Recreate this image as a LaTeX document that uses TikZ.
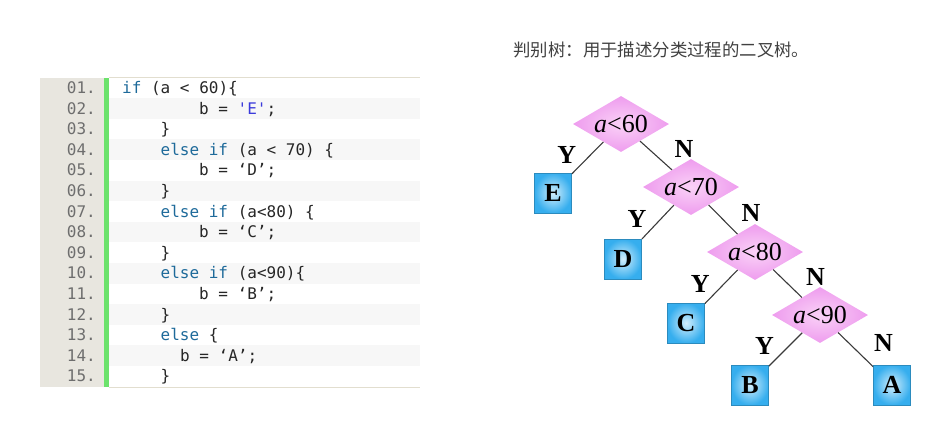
\documentclass[tikz,border=0pt]{standalone}
\usepackage{fontspec}
\setmainfont{Liberation Serif}
\setmonofont{DejaVu Sans Mono}
\newfontfamily\cjkfont{Noto Sans CJK SC}
\usetikzlibrary{positioning,shapes.geometric}
\definecolor{codeGutter}{HTML}{E8E6DF}
\definecolor{codeBar}{HTML}{6CE26C}
\definecolor{codeStripe}{HTML}{F7F7F7}
\definecolor{codeRule}{HTML}{E2DECF}
\definecolor{codeNum}{HTML}{6E6E6E}
\definecolor{codeKey}{HTML}{1E6A9A}
\definecolor{codeStr}{HTML}{3B3BDB}
\definecolor{treePink}{HTML}{EE9CEE}
\definecolor{treePinkLight}{HTML}{FAD2F7}
\definecolor{treeBlue}{HTML}{36AEEE}
\definecolor{treeBlueLight}{HTML}{D2EEFC}
\definecolor{treeEdge}{HTML}{3A3A3A}
\newcommand{\codeFont}{\ttfamily\fontsize{16}{19}\selectfont}
\newcommand{\condFont}{\fontsize{26}{28}\selectfont}
\newcommand{\leafFont}{\bfseries\fontsize{26}{28}\selectfont}
\newcommand{\kw}[1]{\textcolor{codeKey}{#1}}
\tikzset{
  lineNum/.style={anchor=base east, font=\codeFont, text=codeNum, inner sep=0pt},
  codeLine/.style={anchor=base west, font=\codeFont, text=black!85, inner sep=0pt},
  cond/.style={diamond, aspect=1.7, minimum width=96pt, minimum height=56pt, inner sep=0pt, shading=radial, inner color=treePinkLight, outer color=treePink, font=\condFont},
  leaf/.style={rectangle, minimum width=37pt, minimum height=40pt, inner sep=0pt, draw=treeBlue!80!black, line width=0.8pt, shading=radial, inner color=treeBlueLight, outer color=treeBlue, font=\leafFont},
  branch/.style={draw=treeEdge, line width=1.1pt},
  yLab/.style={font=\leafFont, left=10pt, yshift=3pt, inner sep=1pt},
  nLab/.style={font=\leafFont, right=17pt, yshift=7pt, inner sep=1pt}
}

\begin{document}
\begin{tikzpicture}[x=1pt, y=-1pt]
  \useasboundingbox (0,0) rectangle (944,432);

  % code listing
  \fill[codeGutter] (40,77.5) rectangle (104,387);
  \fill[codeBar] (104,77.5) rectangle (109,387);
  \foreach \i in {2,4,...,14}
    \fill[codeStripe] (109,{56.9+20.6*\i}) rectangle (420,{77.5+20.6*\i});
  \draw[codeRule, line width=1pt] (109,77.5) -- (420,77.5);
  \draw[codeRule, line width=1pt] (109,387) -- (420,387);
  \foreach \i in {1,...,15}
    \node[lineNum] (n\i) at (96,{72.8+20.6*\i}) {\ifnum\i<10 0\fi\i.};

  \node[codeLine] (l1) at (122,93.4) {\kw{if} (a < 60)\{};
  \node[codeLine] (l2) at (199,114.0) {b = \textcolor{codeStr}{'E'};};
  \node[codeLine] (l3) at (160.5,134.6) {\}};
  \node[codeLine] (l4) at (160.5,155.2) {\kw{else} \kw{if} (a < 70) \{};
  \node[codeLine] (l5) at (199,175.8) {b = ‘D’;};
  \node[codeLine] (l6) at (160.5,196.4) {\}};
  \node[codeLine] (l7) at (160.5,217.0) {\kw{else} \kw{if} (a<80) \{};
  \node[codeLine] (l8) at (199,237.6) {b = ‘C’;};
  \node[codeLine] (l9) at (160.5,258.2) {\}};
  \node[codeLine] (l10) at (160.5,278.8) {\kw{else} \kw{if} (a<90)\{};
  \node[codeLine] (l11) at (199,299.4) {b = ‘B’;};
  \node[codeLine] (l12) at (160.5,320.0) {\}};
  \node[codeLine] (l13) at (160.5,340.6) {\kw{else} \{};
  \node[codeLine] (l14) at (180,361.2) {b = ‘A’;};
  \node[codeLine] (l15) at (160.5,381.8) {\}};

  % decision tree
  \node[anchor=west, font=\cjkfont\fontsize{17.4}{20}\selectfont, text=black!75] (title) at (510,50) {判别树：用于描述分类过程的二叉树。};

  \node[cond] (q60) at (621,124) {\textit{a}<60};
  \node[cond, on grid, below right=63pt and 70pt of q60] (q70) {\textit{a}<70};
  \node[cond, on grid, below right=65pt and 64pt of q70] (q80) {\textit{a}<80};
  \node[cond, on grid, below right=63pt and 65pt of q80] (q90) {\textit{a}<90};
  \node[leaf, on grid, below left=69pt and 68pt of q60] (leafE) {E};
  \node[leaf, on grid, below left=72pt and 68pt of q70] (leafD) {D};
  \node[leaf, on grid, below left=71pt and 69pt of q80] (leafC) {C};
  \node[leaf, on grid, below left=70pt and 70pt of q90] (leafB) {B};
  \node[leaf, on grid, below right=70pt and 72pt of q90] (leafA) {A};

  \draw[branch] (q60) -- node[yLab]{Y} (leafE);
  \draw[branch] (q60) -- node[nLab]{N} (q70);
  \draw[branch] (q70) -- node[yLab]{Y} (leafD);
  \draw[branch] (q70) -- node[nLab]{N} (q80);
  \draw[branch] (q80) -- node[yLab]{Y} (leafC);
  \draw[branch] (q80) -- node[nLab]{N} (q90);
  \draw[branch] (q90) -- node[yLab]{Y} (leafB);
  \draw[branch] (q90) -- node[nLab]{N} (leafA);
\end{tikzpicture}
\end{document}
